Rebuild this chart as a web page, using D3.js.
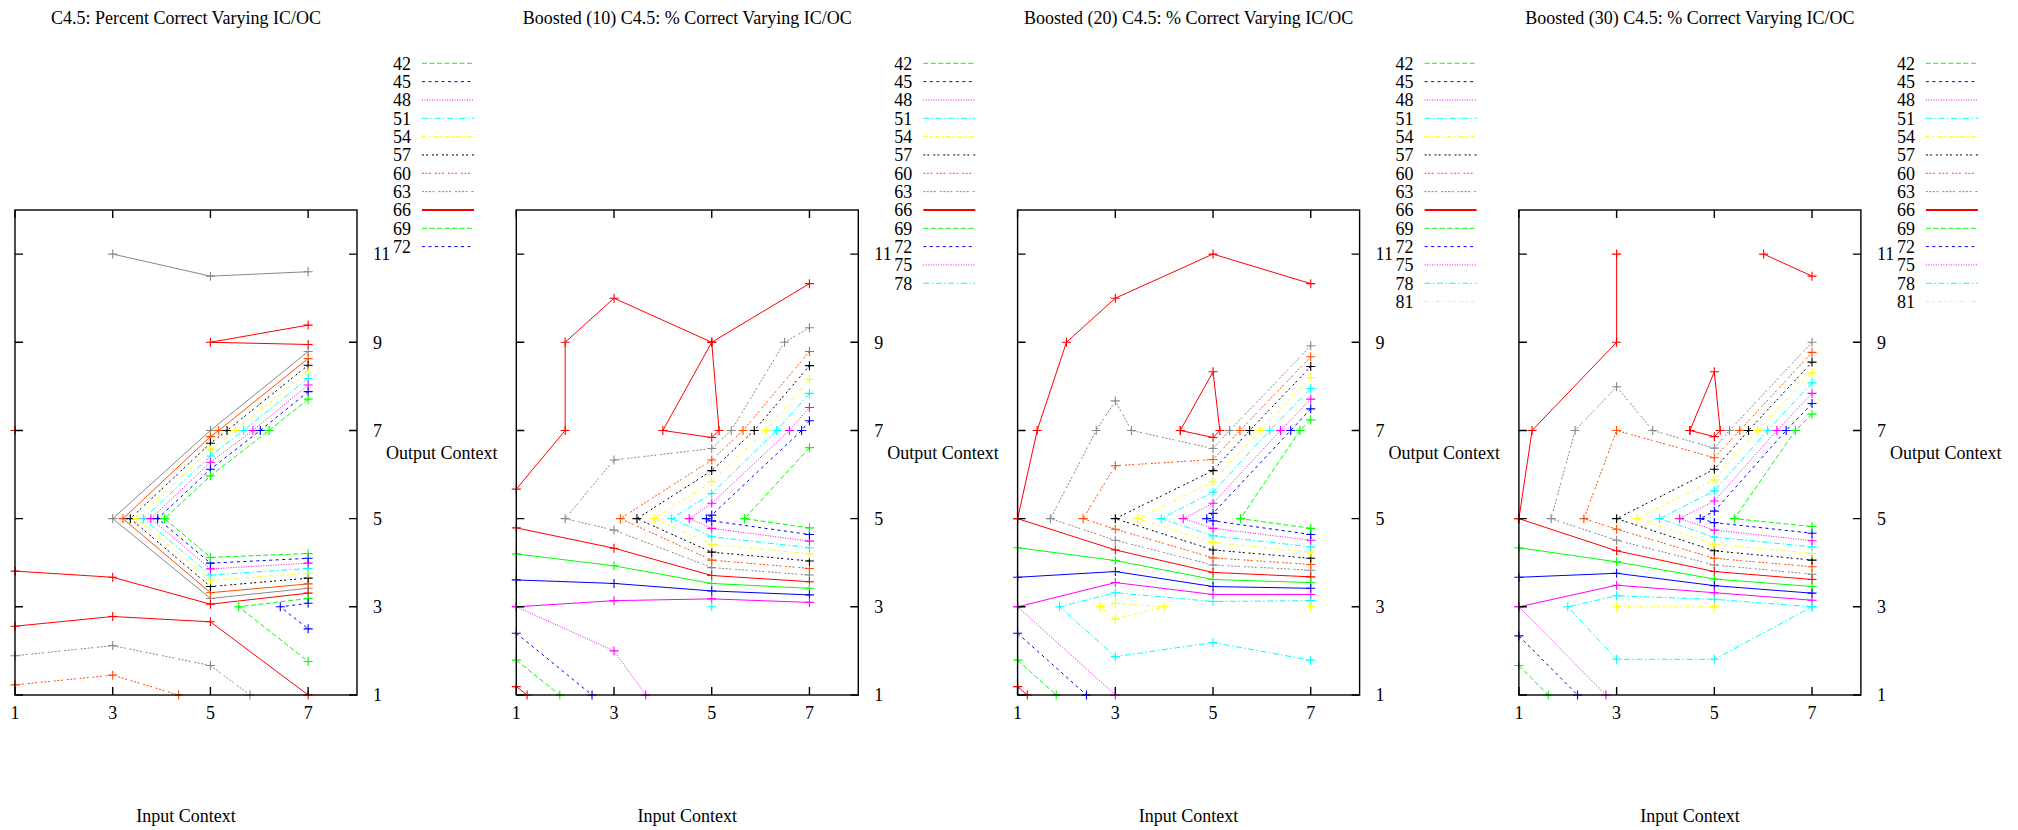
<!DOCTYPE html>
<html>
<head>
<meta charset="utf-8">
<script src="https://cdn.jsdelivr.net/npm/d3@7"></script>
<style>
body { margin: 0; background: #fff; }
svg text { font-family: "Liberation Serif", "DejaVu Serif", serif; font-size: 18px; fill: #000; }
</style>
</head>
<body>
<svg id="drawing_region"></svg>
<script>
// contour levels (percent correct), x = input context, y = output context
const levels = [42, 45, 48, 51, 54, 57, 60, 63, 66, 69, 72, 75, 78, 81];
const xTicks = [1, 3, 5, 7];
const yTicks = [1, 3, 5, 7, 9, 11];
const titles = [
    "C4.5: Percent Correct Varying IC/OC",
    "Boosted (10) C4.5: % Correct Varying IC/OC",
    "Boosted (20) C4.5: % Correct Varying IC/OC",
    "Boosted (30) C4.5: % Correct Varying IC/OC"
];
const legendSizes = [11, 13, 14, 14];

const c45Lines = [
    {level: 63, pts: [[3, 11], [5, 10.5], [7, 10.6]]},
    {level: 66, pts: [[7, 9.39], [5, 9], [7, 8.95]]},
    {level: 66, pts: [[1, 7]]},
    {level: 63, pts: [[7, 8.79], [5, 7], [3, 5], [5, 3.19], [7, 3.42]]},
    {level: 60, pts: [[7, 8.63], [5.17, 7], [5, 6.86], [3.21, 5], [5, 3.32], [7, 3.52]]},
    {level: 57, pts: [[7, 8.48], [5.34, 7], [5, 6.71], [3.36, 5], [5, 3.46], [7, 3.65]]},
    {level: 54, pts: [[7, 8.33], [5.51, 7], [5, 6.56], [3.5, 5], [5, 3.61], [7, 3.76]]},
    {level: 51, pts: [[7, 8.18], [5.68, 7], [5, 6.42], [3.63, 5], [5, 3.72], [7, 3.87]]},
    {level: 48, pts: [[7, 8.03], [5.87, 7], [5, 6.28], [3.78, 5], [5, 3.86], [7, 3.99]]},
    {level: 45, pts: [[7, 7.88], [6.02, 7], [5, 6.12], [3.92, 5], [5, 3.99], [7, 4.1]]},
    {level: 42, pts: [[7, 7.71], [6.2, 7], [5, 5.97], [4.06, 5], [5, 4.12], [7, 4.21]]},
    {level: 66, pts: [[1, 3.81], [3, 3.67], [5, 3.06], [7, 3.31]]},
    {level: 69, pts: [[7, 3.19], [5.58, 3], [7, 1.76]]},
    {level: 72, pts: [[7, 3.08], [6.43, 3], [7, 2.5]]},
    {level: 66, pts: [[1, 2.56], [3, 2.78], [5, 2.66], [7, 1]]},
    {level: 63, pts: [[1, 1.89], [3, 2.12], [5, 1.67], [5.81, 1]]},
    {level: 60, pts: [[1, 1.23], [3, 1.45], [4.35, 1]]}
];

const b10Lines = [
    {level: 66, pts: [[1, 5.67], [2, 7], [2, 9], [3, 10], [5, 9], [7, 10.33]]},
    {level: 66, pts: [[5, 9], [4, 7], [5, 6.84], [5.15, 7], [5, 9]]},
    {level: 63, pts: [[7, 9.33], [6.49, 9], [5.4, 7], [5, 6.59], [3, 6.33], [2, 5], [3, 4.74], [5, 3.89], [7, 3.72]]},
    {level: 60, pts: [[7, 8.79], [5.64, 7], [5, 6.33], [3.13, 5], [5, 4.06], [7, 3.87]]},
    {level: 57, pts: [[7, 8.47], [5.87, 7], [5, 6.09], [3.47, 5], [5, 4.24], [7, 4.04]]},
    {level: 54, pts: [[7, 8.16], [6.11, 7], [5, 5.84], [3.82, 5], [5, 4.42], [7, 4.2]]},
    {level: 51, pts: [[7, 7.84], [6.33, 7], [5, 5.57], [4.18, 5], [5, 4.59], [7, 4.34]]},
    {level: 48, pts: [[7, 7.52], [6.59, 7], [5, 5.35], [4.54, 5], [5, 4.78], [7, 4.49]]},
    {level: 45, pts: [[7, 7.22], [6.84, 7], [5, 5.08], [4.89, 5], [5, 4.95], [7, 4.64]]},
    {level: 42, pts: [[7, 6.61], [5.67, 5], [7, 4.79]]},
    {level: 66, pts: [[1, 4.79], [3, 4.33], [5, 3.71], [7, 3.57]]},
    {level: 69, pts: [[1, 4.2], [3, 3.93], [5, 3.53], [7, 3.42]]},
    {level: 72, pts: [[1, 3.61], [3, 3.53], [5, 3.36], [7, 3.27]]},
    {level: 75, pts: [[1, 3], [3, 3.14], [5, 3.18], [7, 3.1]]},
    {level: 78, pts: [[5, 3]]},
    {level: 75, pts: [[1, 3], [3, 2], [3.65, 1]]},
    {level: 72, pts: [[1, 2.4], [2.55, 1]]},
    {level: 69, pts: [[1, 1.79], [1.89, 1]]},
    {level: 66, pts: [[1, 1.19], [1.22, 1]]}
];

const b20Lines = [
    {level: 66, pts: [[1, 5], [1.4, 7], [2, 9], [3, 10], [5, 11], [7, 10.33]]},
    {level: 66, pts: [[4.33, 7], [5, 8.33], [5.14, 7], [5, 6.84], [4.33, 7]]},
    {level: 63, pts: [[7, 8.92], [5.34, 7], [5, 6.59], [3.33, 7], [3, 7.67], [2.61, 7], [1.67, 5], [3, 4.51], [5, 3.95], [7, 3.83]]},
    {level: 60, pts: [[7, 8.67], [5.55, 7], [5, 6.34], [3, 6.2], [2.34, 5], [3, 4.76], [5, 4.11], [7, 3.96]]},
    {level: 57, pts: [[7, 8.45], [5.75, 7], [5, 6.09], [3, 5], [5, 4.29], [7, 4.1]]},
    {level: 54, pts: [[7, 8.2], [5.96, 7], [5, 5.84], [3.46, 5], [5, 4.46], [7, 4.24]]},
    {level: 51, pts: [[7, 7.95], [6.16, 7], [5, 5.6], [3.94, 5], [5, 4.61], [7, 4.36]]},
    {level: 48, pts: [[7, 7.71], [6.38, 7], [5, 5.35], [4.39, 5], [5, 4.78], [7, 4.51]]},
    {level: 45, pts: [[7, 7.49], [6.59, 7], [5, 5.12], [4.87, 5], [5, 4.95], [7, 4.64]]},
    {level: 42, pts: [[7, 7.24], [6.78, 7], [5.56, 5], [7, 4.78]]},
    {level: 66, pts: [[1, 5], [3, 4.29], [5, 3.78], [7, 3.68]]},
    {level: 69, pts: [[1, 4.34], [3, 4.05], [5, 3.62], [7, 3.55]]},
    {level: 72, pts: [[1, 3.67], [3, 3.8], [5, 3.46], [7, 3.42]]},
    {level: 75, pts: [[1, 3], [3, 3.55], [5, 3.28], [7, 3.28]]},
    {level: 78, pts: [[7, 3.14], [5, 3.12], [3, 3.32], [1.86, 3], [3, 1.87], [5, 2.19], [7, 1.79]]},
    {level: 81, pts: [[2.69, 3], [3, 3.08], [4, 3], [3, 2.72], [2.69, 3]]},
    {level: 81, pts: [[7, 3]]},
    {level: 75, pts: [[1, 3], [3, 1]]},
    {level: 72, pts: [[1, 2.4], [2.41, 1]]},
    {level: 69, pts: [[1, 1.79], [1.79, 1]]},
    {level: 66, pts: [[1, 1.19], [1.2, 1]]}
];

const b30Lines = [
    {level: 66, pts: [[1, 5], [1.27, 7], [3, 9], [3, 11]]},
    {level: 66, pts: [[6.01, 11], [7, 10.5]]},
    {level: 66, pts: [[4.5, 7], [5, 8.33], [5.12, 7], [5, 6.86], [4.5, 7]]},
    {level: 63, pts: [[7, 9], [5.31, 7], [5, 6.6], [3.74, 7], [3, 7.99], [2.15, 7], [1.66, 5], [3, 4.51], [5, 3.95], [7, 3.74]]},
    {level: 60, pts: [[7, 8.77], [5.52, 7], [5, 6.38], [3, 7], [2.33, 5], [3, 4.76], [5, 4.1], [7, 3.91]]},
    {level: 57, pts: [[7, 8.55], [5.7, 7], [5, 6.12], [3, 5], [5, 4.27], [7, 4.06]]},
    {level: 54, pts: [[7, 8.31], [5.89, 7], [5, 5.88], [3.42, 5], [5, 4.42], [7, 4.21]]},
    {level: 51, pts: [[7, 8.08], [6.09, 7], [5, 5.63], [3.88, 5], [5, 4.58], [7, 4.36]]},
    {level: 48, pts: [[7, 7.84], [6.28, 7], [5, 5.4], [4.29, 5], [5, 4.74], [7, 4.5]]},
    {level: 45, pts: [[7, 7.61], [6.47, 7], [5, 5.17], [4.71, 5], [5, 4.91], [7, 4.67]]},
    {level: 42, pts: [[7, 7.37], [6.66, 7], [5.41, 5], [7, 4.82]]},
    {level: 66, pts: [[1, 5], [3, 4.27], [5, 3.8], [7, 3.62]]},
    {level: 69, pts: [[1, 4.34], [3, 4.02], [5, 3.63], [7, 3.46]]},
    {level: 72, pts: [[1, 3.67], [3, 3.76], [5, 3.48], [7, 3.31]]},
    {level: 75, pts: [[1, 3], [3, 3.49], [5, 3.32], [7, 3.15]]},
    {level: 78, pts: [[7, 3], [5, 3.17], [3, 3.25], [2, 3], [3, 1.81], [5, 1.81], [7, 3]]},
    {level: 81, pts: [[3, 3], [5, 3]]},
    {level: 75, pts: [[1, 3], [2.78, 1]]},
    {level: 72, pts: [[1, 2.34], [2.2, 1]]},
    {level: 69, pts: [[1, 1.67], [1.6, 1]]}
];

// lines that come out solid in the picture although their level is dashed
const solidLines = [[0, 3, 4], [11, 12, 13], [11, 12, 13], [12, 13, 14]];

const colors = ["#00ff00", "#0000ff", "#ff00ff", "#00ffff", "#ffff00", "#000000", "#ff4c00", "#888888", "#ff0000"];
const dashes = ["5,2.5", "3,3.5", "1,1.5", "6,2.5,1.5,2.5", "4,3,1.5,3", "2,2,2,4", "2,1.5,2,1.5,2,4", "2,1.5,2,1.5,2,1.5,2,4", null];

class ContourPanel {

    constructor( config, lines ) {
        this.config = {
            parent: config.parent,
            left: config.left,
            top: config.top || 210,
            width: config.width || 342,
            height: config.height || 485,
            title: config.title,
            legendN: config.legendN,
            solid: config.solid || []
        }
        this.lines = lines;
        this.init();
    }

    init() {
        let self = this;

        self.chart = self.config.parent.append('g')
            .attr('transform', `translate(${self.config.left}, ${self.config.top})`);

        self.xscale = d3.scaleLinear()
            .domain([1, 8])
            .range([0, self.config.width]);

        self.yscale = d3.scaleLinear()
            .domain([1, 12])
            .range([self.config.height, 0]);
    }

    styleOf( level ) {
        const k = ((level - 42) / 3) % 9;
        return { color: colors[k], dash: dashes[k] };
    }

    render() {
        let self = this;
        const w = self.config.width, h = self.config.height;

        // contour lines
        const line = d3.line()
            .x( d => self.xscale(d[0]) )
            .y( d => self.yscale(d[1]) );

        self.lines.forEach( (d, i) => {
            const s = self.styleOf(d.level);
            const solid = self.config.solid.includes(i);
            self.chart.append('path')
                .attr('d', line(d.pts))
                .attr('fill', 'none')
                .attr('stroke', s.color)
                .attr('stroke-width', 1)
                .attr('stroke-dasharray', solid ? null : s.dash);

            self.chart.selectAll(null)
                .data(d.pts)
                .enter()
                .append('path')
                .attr('d', p => `M${self.xscale(p[0]) - 4.5},${self.yscale(p[1])}h9M${self.xscale(p[0])},${self.yscale(p[1]) - 4.5}v9`)
                .attr('stroke', s.color)
                .attr('stroke-width', 1.1)
                .attr('fill', 'none');
        });

        // box and ticks
        self.chart.append('rect')
            .attr('width', w).attr('height', h)
            .attr('fill', 'none').attr('stroke', '#000').attr('stroke-width', 1.4);

        const tl = 8;
        self.chart.selectAll('.xt')
            .data(xTicks)
            .enter()
            .append('path')
            .attr('d', d => `M${self.xscale(d)},${h}v${-tl}M${self.xscale(d)},0v${tl}`)
            .attr('stroke', '#000').attr('stroke-width', 1.4);

        self.chart.selectAll('.yt')
            .data(yTicks)
            .enter()
            .append('path')
            .attr('d', d => `M0,${self.yscale(d)}h${tl}M${w},${self.yscale(d)}h${-tl}`)
            .attr('stroke', '#000').attr('stroke-width', 1.4);

        self.chart.selectAll('.xl')
            .data(xTicks)
            .enter()
            .append('text')
            .attr('x', d => self.xscale(d))
            .attr('y', h + 24)
            .attr('text-anchor', 'middle')
            .text(d => d);

        self.chart.selectAll('.yl')
            .data(yTicks)
            .enter()
            .append('text')
            .attr('x', w + 16)
            .attr('y', d => self.yscale(d))
            .attr('dy', '0.35em')
            .text(d => d);

        // labels
        self.chart.append('text')
            .attr('x', w / 2)
            .attr('y', 24 - self.config.top)
            .attr('text-anchor', 'middle')
            .text(self.config.title);

        self.chart.append('text')
            .attr('x', w / 2)
            .attr('y', 822 - self.config.top)
            .attr('text-anchor', 'middle')
            .text('Input Context');

        self.chart.append('text')
            .attr('x', w + 29)
            .attr('y', h / 2)
            .attr('dy', '0.35em')
            .text('Output Context');

        // key
        const key = self.chart.append('g')
            .attr('transform', `translate(${w}, ${63.3 - self.config.top})`);

        levels.slice(0, self.config.legendN).forEach( (lv, i) => {
            const s = self.styleOf(lv);
            const y = i * 18.33;
            key.append('text')
                .attr('x', 54).attr('y', y).attr('dy', '0.35em')
                .attr('text-anchor', 'end')
                .attr('font-size', '19px')
                .text(lv);
            key.append('line')
                .attr('x1', 65).attr('x2', 117)
                .attr('y1', y).attr('y2', y)
                .attr('stroke', s.color)
                .attr('stroke-width', s.dash ? 1 : 2)
                .attr('stroke-dasharray', s.dash);
        });
    }
}

const svg = d3.select('#drawing_region')
    .attr('width', 2018)
    .attr('height', 830);

const allLines = [c45Lines, b10Lines, b20Lines, b30Lines];
allLines.forEach( (lines, i) => {
    const panel = new ContourPanel({
        parent: svg,
        left: 15 + i * 501.3,
        title: titles[i],
        legendN: legendSizes[i],
        solid: solidLines[i]
    }, lines);
    panel.render();
});
</script>
</body>
</html>
